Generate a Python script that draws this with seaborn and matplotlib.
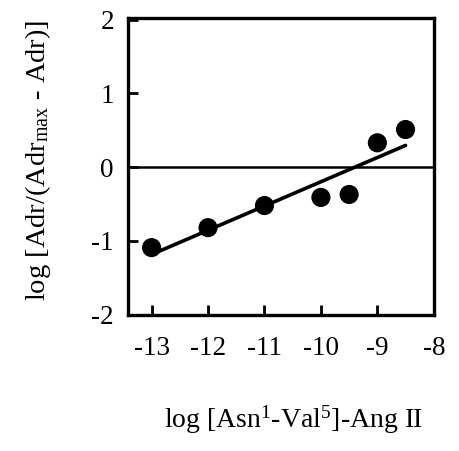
import seaborn as sns
import pandas as pd
import matplotlib.pyplot as plt

# log concentration of [Asn1-Val5]-Ang II and the transformed adrenaline response
log_conc = [-13, -12, -11, -10, -9.5, -9, -8.5]
log_ratio = [-1.09, -0.82, -0.52, -0.41, -0.37, 0.33, 0.51]
x_ticks = [-13, -12, -11, -10, -9, -8]
y_ticks = [-2, -1, 0, 1, 2]

df = pd.DataFrame({"log_conc": log_conc, "log_ratio": log_ratio})

sns.set_style("ticks", {
    "axes.edgecolor": "black",
    "axes.labelcolor": "black",
    "text.color": "black",
    "xtick.color": "black",
    "ytick.color": "black",
})
plt.rcParams["font.family"] = ["Liberation Serif", "DejaVu Serif"]
plt.rcParams["mathtext.fontset"] = "custom"
plt.rcParams["mathtext.rm"] = "Liberation Serif"
plt.rcParams["mathtext.it"] = "Liberation Serif:italic"
plt.rcParams["axes.unicode_minus"] = False

fig = plt.figure(figsize=(4.6, 4.51), dpi=100)
ax = fig.add_axes([0.278, 0.302, 0.665, 0.658])

# points plus least-squares line
sns.regplot(
    data=df,
    x="log_conc",
    y="log_ratio",
    ci=None,
    truncate=True,
    color="black",
    scatter_kws={"s": 190, "edgecolor": "none", "alpha": 1},
    line_kws={"lw": 2.6},
    ax=ax,
)
ax.axhline(0, color="black", lw=1.8, zorder=1)

ax.set_xlim(-13.42, -8)
ax.set_ylim(-1.97, 2.02)
ax.set_xticks(x_ticks)
ax.set_yticks(y_ticks)
ax.tick_params(direction="in", length=7, width=2, labelsize=19.5)
ax.tick_params(axis="x", pad=15)
ax.tick_params(axis="y", pad=10)
for s in ax.spines.values():
    s.set_linewidth(2.4)

# Axis labels
ax.set_xlabel("log [Asn$^{1}$-Val$^{5}$]-Ang II", fontsize=20)
ax.set_ylabel("log [Adr/(Adr$_{\\mathrm{max}}$ - Adr)]", fontsize=20.5)
ax.xaxis.set_label_coords(0.54, -0.30)
ax.yaxis.set_label_coords(-0.245, 0.52)

plt.savefig("out.png", dpi=100)
